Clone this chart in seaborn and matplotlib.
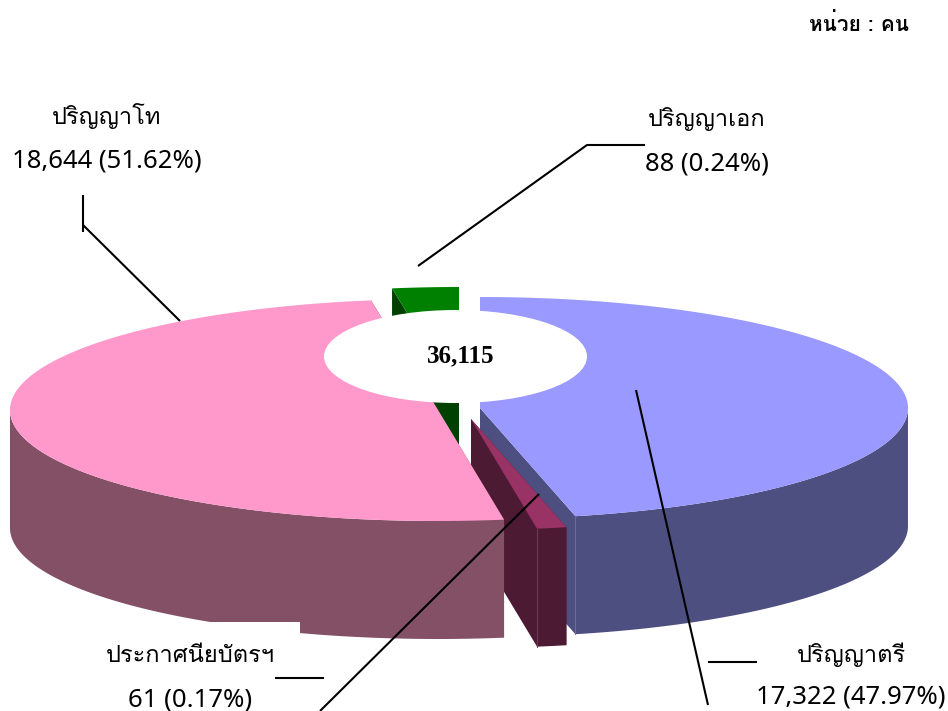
import matplotlib
matplotlib.use("Agg")
import matplotlib.pyplot as plt
from matplotlib.patches import Ellipse, Polygon, Rectangle
import numpy as np
import seaborn as sns

# data
categories = ["ปริญญาโท", "ปริญญาตรี", "ปริญญาเอก", "ประกาศนียบัตรฯ"]
people = [18644, 17322, 88, 61]
percent = ["51.62", "47.97", "0.24", "0.17"]
total = "36,115"
unit = "หน่วย : คน"

top_colors = ["#FF99CC", "#9999FF", "#008000", "#993366"]
wall_colors = ["#835066", "#4D4F80", "#004000", "#4D1A33"]
edge_colors = ["#835066", "#6A6C9C", "#004000", "#6E3A55"]

# tiny slices get a fixed sweep, the big ones share what is left
min_sweep = {2: 9.0, 3: 4.0}
rest = 360 - sum(min_sweep.values())
big = sum(v for i, v in enumerate(people) if i not in min_sweep)
sweeps = [min_sweep.get(i, rest * v / big) for i, v in enumerate(people)]

# slices start from the pink one, going counter clockwise
start = {0: 99.0}
start[3] = start[0] + sweeps[0]
start[1] = start[3] + sweeps[3]
start[2] = start[1] + sweeps[1]

centers = {0: (438, 410), 1: (480, 408), 2: (459, 398), 3: (471, 419)}
rx, ry, depth = 428, 111, 118

sns.set_theme(style="white")
plt.rcParams["font.family"] = ["Loma", "Noto Sans Thai Looped", "DejaVu Sans"]

fig = plt.figure(figsize=(9.48, 7.11), dpi=100)
ax = fig.add_axes([0, 0, 1, 1])
ax.set_xlim(0, 948)
ax.set_ylim(711, 0)
ax.axis("off")


def draw_slice(i):
    cx, cy = centers[i]
    t = np.radians(np.linspace(start[i], start[i] + sweeps[i], 200))
    x = cx + rx * np.cos(t)
    y = cy - ry * np.sin(t)
    # the two cut faces
    for k in (0, -1):
        ax.add_patch(Polygon([(cx, cy), (x[k], y[k]), (x[k], y[k] + depth), (cx, cy + depth)],
                             fc=wall_colors[i], ec="none"))
    # outer wall, front part only
    front = np.sin(t) <= 0
    if front.any():
        wall = np.r_[np.c_[x[front], y[front]], np.c_[x[front], y[front] + depth][::-1]]
        ax.add_patch(Polygon(wall, fc=wall_colors[i], ec="none"))
    # thin lighter line on the corner between cut face and outer wall
    if i in (1, 3):
        ax.plot([x[0], x[0]], [y[0], y[0] + depth], color=edge_colors[i], lw=0.8)
    ax.add_patch(Polygon(np.r_[[(cx, cy)], np.c_[x, y]], fc=top_colors[i], ec="none"))


for i in [2, 1, 3, 0]:
    draw_slice(i)

ax.add_patch(Ellipse((455.5, 356.5), 263, 93, fc="white", ec="none"))
ax.add_patch(Rectangle((100, 622), 200, 89, fc="white", ec="none"))

ax.text(461, 356, total, family="Liberation Serif", weight="bold", fontsize=18, ha="center", va="center", color="black")
ax.text(859, 24, unit, weight="bold", fontsize=15, ha="center", va="center", color="black")

label_pos = {0: (107, 116, 161), 1: (851, 655, 697), 2: (707, 119, 164), 3: (190, 656, 700)}
for i, (lx, y1, y2) in label_pos.items():
    ax.text(lx, y1, categories[i], fontsize=17, ha="center", va="center", color="black")
    ax.text(lx, y2, f"{people[i]:,} ({percent[i]}%)", family="Noto Sans", fontsize=18.5,
            ha="center", va="center", color="black")

leaders = [
    [(83, 195), (83, 232)],
    [(83, 225), (180, 321)],
    [(645, 145), (587, 145), (418, 266)],
    [(636, 390), (708, 705)],
    [(708, 662), (757, 662)],
    [(539, 494), (320, 711)],
    [(275, 678), (324, 678)],
]
for pts in leaders:
    ax.plot(*zip(*pts), color="black", lw=1.5, solid_capstyle="butt")

fig.savefig("out.png", dpi=100)
